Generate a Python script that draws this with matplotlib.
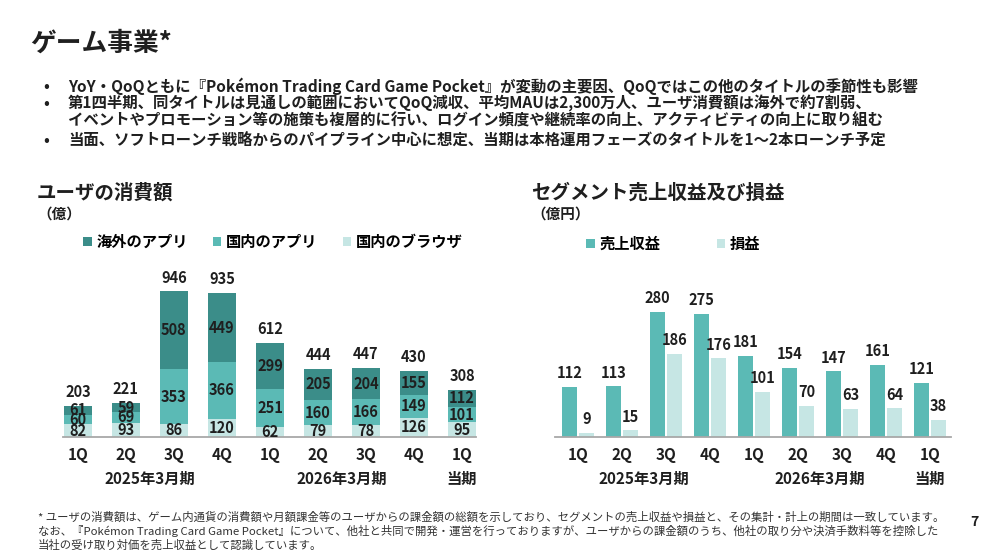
import matplotlib
matplotlib.use("Agg")
import matplotlib.pyplot as plt
import numpy as np

plt.rcParams['font.family'] = ['Noto Sans CJK JP', 'DejaVu Sans']

# ユーザの消費額 (億)
quarters = ["1Q", "2Q", "3Q", "4Q", "1Q", "2Q", "3Q", "4Q", "1Q"]
browser_jp = [82, 93, 86, 120, 62, 79, 78, 126, 95]
app_jp = [60, 69, 353, 366, 251, 160, 166, 149, 101]
app_overseas = [61, 59, 508, 449, 299, 205, 204, 155, 112]
totals = [203, 221, 946, 935, 612, 444, 447, 430, 308]

# セグメント売上収益及び損益 (億円)
revenue = [112, 113, 280, 275, 181, 154, 147, 161, 121]
profit = [9, 15, 186, 176, 101, 70, 63, 64, 38]

periods = ["2025年3月期", "2026年3月期", "当期"]
period_pos = [1.5, 5.5, 8]

c_dark = "#3b8d89"
c_mid = "#5bbab5"
c_light = "#c6e6e4"
c_text = "#1f1f1f"
c_axis = "#a8a8a8"

fig = plt.figure(figsize=(10, 5.5), dpi=100)


def fx(px):
    return px / 1000


def fy(py):
    return 1 - py / 550


# header
fig.text(fx(30), fy(43), "ゲーム事業*", fontsize=18.5, fontweight="bold",
         color=c_text, va="center")
bullets = [
    (86, "•", "YoY・QoQともに『Pokémon Trading Card Game Pocket』が変動の主要因、QoQではこの他のタイトルの季節性も影響"),
    (103, "•", "第1四半期、同タイトルは見通しの範囲においてQoQ減収、平均MAUは2,300万人、ユーザ消費額は海外で約7割弱、"),
    (121, "", "イベントやプロモーション等の施策も複層的に行い、ログイン頻度や継続率の向上、アクティビティの向上に取り組む"),
    (140, "•", "当面、ソフトローンチ戦略からのパイプライン中心に想定、当期は本格運用フェーズのタイトルを1～2本ローンチ予定"),
]
for y, b, t in bullets:
    if b:
        fig.text(fx(43), fy(y), b, fontsize=11, fontweight="bold",
                 color=c_text, va="center")
    fig.text(fx(68), fy(y), t, fontsize=11.1, fontweight="bold",
             color=c_text, va="center")

# chart titles
fig.text(fx(37), fy(193), "ユーザの消費額", fontsize=14, fontweight="bold",
         color=c_text, va="center")
fig.text(fx(37), fy(214), "（億）", fontsize=10.5, fontweight="bold",
         color=c_text, va="center")
fig.text(fx(531), fy(193), "セグメント売上収益及び損益", fontsize=14,
         fontweight="bold", color=c_text, va="center")
fig.text(fx(531), fy(214), "（億円）", fontsize=10.5, fontweight="bold",
         color=c_text, va="center")


def style_axes(ax):
    for s in ["top", "right", "left"]:
        ax.spines[s].set_visible(False)
    ax.spines["bottom"].set_color(c_axis)
    ax.spines["bottom"].set_linewidth(1.3)
    ax.set_yticks([])
    ax.tick_params(axis="x", length=0, pad=7)
    for lab in ax.get_xticklabels():
        lab.set_fontsize(11)
        lab.set_fontweight("bold")
        lab.set_color(c_text)
    for p, t in zip(period_pos, periods):
        ax.annotate(t, xy=(p, 0), xycoords=("data", "axes fraction"),
                    xytext=(0, -30.5), textcoords="offset points",
                    ha="center", va="center", fontsize=11,
                    fontweight="bold", color=c_text, annotation_clip=False)


# left: stacked bars
x = np.arange(len(quarters))
ax1 = fig.add_axes([fx(63), fy(437), 0.413, 154 / 550])
ax1.patch.set_alpha(0)
w = 28 / 48
b1 = ax1.bar(x, browser_jp, w, color=c_light, label="国内のブラウザ")
b2 = ax1.bar(x, app_jp, w, bottom=browser_jp, color=c_mid, label="国内のアプリ")
bottom3 = np.array(browser_jp) + np.array(app_jp)
b3 = ax1.bar(x, app_overseas, w, bottom=bottom3, color=c_dark, label="海外のアプリ")
for cont in (b1, b2, b3):
    ax1.bar_label(cont, label_type="center", fontsize=10.5, fontweight="bold",
                  color=c_text)
ax1.bar_label(b3, labels=[str(t) for t in totals], padding=4, fontsize=10.5,
              fontweight="bold", color=c_text)
ax1.set_xlim(-0.31, 8.29)
ax1.set_ylim(0, 1000)
ax1.set_xticks(x, quarters)
style_axes(ax1)
fig.legend(handles=[b3, b2, b1], labels=["海外のアプリ", "国内のアプリ", "国内のブラウザ"],
           loc="center left", bbox_to_anchor=(fx(77), fy(242)), ncol=3,
           frameon=False, handlelength=0.55, handleheight=0.55,
           handletextpad=0.3, columnspacing=1.65, borderaxespad=0,
           prop={"weight": "bold", "size": 11})

# right: grouped bars
ax2 = fig.add_axes([fx(555), fy(437), 0.396, 300 * 0.448 / 550])
ax2.patch.set_alpha(0)
bw = 15 / 44
off = 8.5 / 44
r1 = ax2.bar(x - off, revenue, bw, color=c_mid, label="売上収益")
r2 = ax2.bar(x + off, profit, bw, color=c_light, label="損益")
ax2.bar_label(r1, padding=4, fontsize=10.5, fontweight="bold", color=c_text)
ax2.bar_label(r2, padding=4, fontsize=10.5, fontweight="bold", color=c_text)
ax2.set_xlim(-0.52, 8.48)
ax2.set_ylim(0, 300)
ax2.set_xticks(x, quarters)
style_axes(ax2)
fig.legend(handles=[r1, r2], labels=["売上収益", "損益"],
           loc="center left", bbox_to_anchor=(fx(580), fy(244)), ncol=2,
           frameon=False, handlelength=0.55, handleheight=0.55,
           handletextpad=0.3, columnspacing=3.7, borderaxespad=0,
           prop={"weight": "bold", "size": 11})

# footnote
notes = [
    "* ユーザの消費額は、ゲーム内通貨の消費額や月額課金等のユーザからの課金額の総額を示しており、セグメントの売上収益や損益と、その集計・計上の期間は一致しています。",
    "なお、『Pokémon Trading Card Game Pocket』について、他社と共同で開発・運営を行っておりますが、ユーザからの課金額のうち、他社の取り分や決済手数料等を控除した",
    "当社の受け取り対価を売上収益として認識しています。",
]
for i, t in enumerate(notes):
    fig.text(fx(38), fy(517 + i * 14), t, fontsize=8.2, color="#333333",
             va="center")
fig.text(fx(970), fy(522), "7", fontsize=10, fontweight="bold",
         color=c_text, va="center")

fig.savefig("out.png", dpi=100)
